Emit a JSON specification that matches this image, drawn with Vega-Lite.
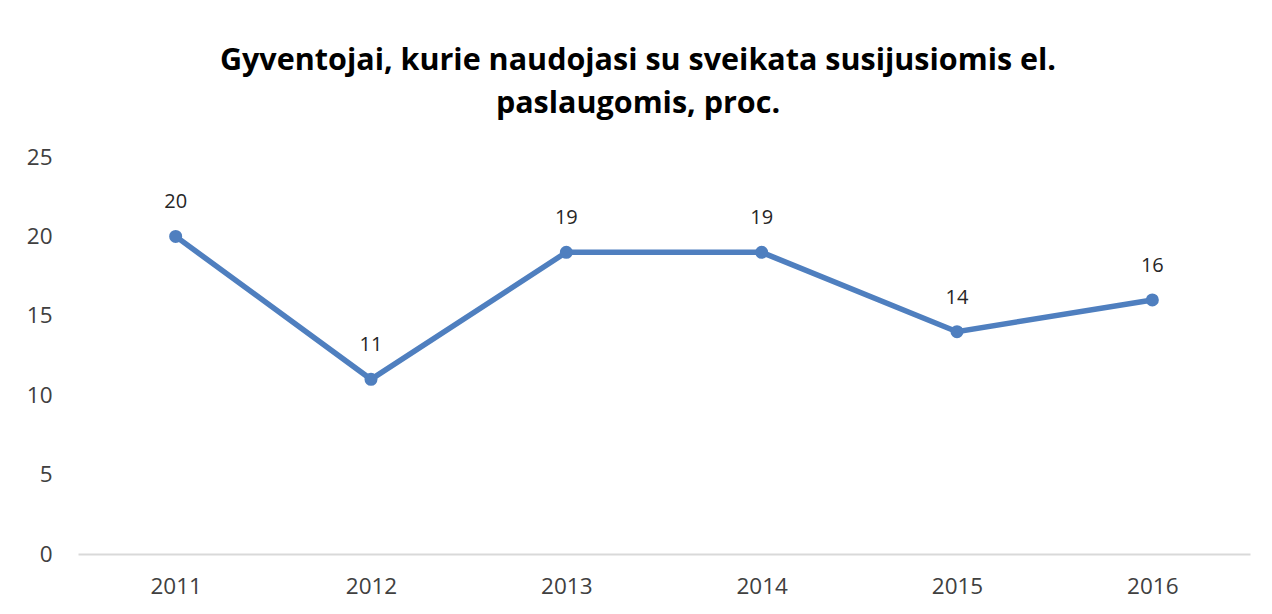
{
  "$schema": "https://vega.github.io/schema/vega-lite/v6.json",
  "autosize": "none",
  "width": 1172,
  "height": 397,
  "padding": {"left": 78, "top": 157, "right": 22, "bottom": 60},
  "background": "white",
  "title": {
    "text": ["Gyventojai, kurie naudojasi su sveikata susijusiomis el.", "paslaugomis, proc."],
    "font": "Open Sans",
    "fontSize": 30.5,
    "fontWeight": "bold",
    "color": "#000000",
    "lineHeight": 43,
    "anchor": "middle",
    "dx": -26,
    "offset": 27
  },
  "config": {
    "view": {"stroke": null},
    "axis": {"labelFont": "Open Sans", "labelFontSize": 22.5, "labelColor": "#404040", "grid": false, "ticks": false, "title": null}
  },
  "data": {
    "values": [
      {"year": "2011", "value": 20},
      {"year": "2012", "value": 11},
      {"year": "2013", "value": 19},
      {"year": "2014", "value": 19},
      {"year": "2015", "value": 14},
      {"year": "2016", "value": 16}
    ]
  },
  "encoding": {
    "x": {
      "field": "year",
      "type": "ordinal",
      "scale": {"type": "point", "padding": 0.5},
      "axis": {"labelAngle": 0, "domainColor": "#d9d9d9", "domainWidth": 2, "labelPadding": 21}
    },
    "y": {
      "field": "value",
      "type": "quantitative",
      "scale": {"domain": [0, 25]},
      "axis": {"values": [0, 5, 10, 15, 20, 25], "domain": false, "labelPadding": 26}
    }
  },
  "layer": [
    {"mark": {"type": "line", "color": "#4f7fbf", "strokeWidth": 5.5, "point": {"filled": true, "size": 170, "color": "#4f7fbf"}}},
    {"mark": {"type": "text", "font": "Open Sans", "fontSize": 20, "color": "#262626", "dy": -34}, "encoding": {"text": {"field": "value", "type": "quantitative"}}}
  ]
}
